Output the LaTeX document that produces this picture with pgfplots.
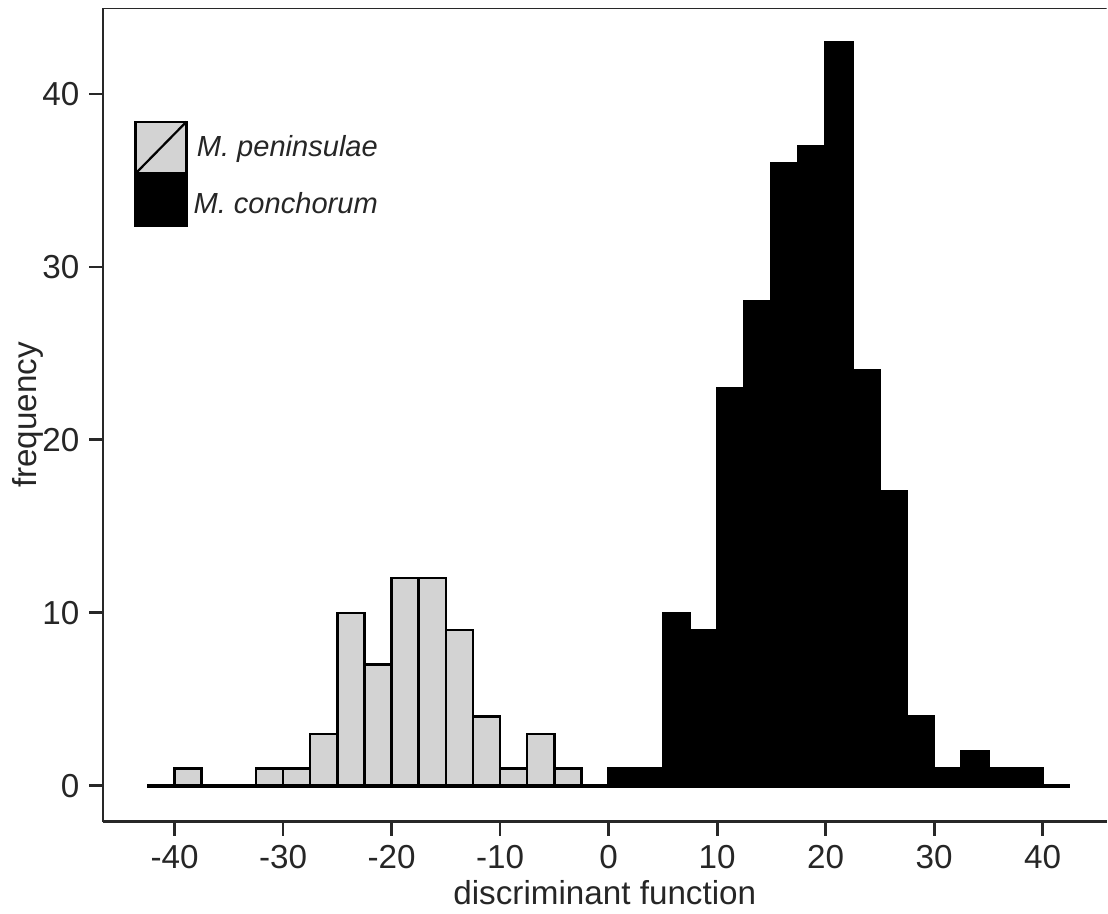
\documentclass[border=0pt]{standalone}
\usepackage{fontspec}
\setmainfont{Liberation Sans}
\usepackage{pgfplots}
\pgfplotsset{compat=1.18}
\usetikzlibrary{calc}
\definecolor{lgrey}{RGB}{211,211,211}
\definecolor{axgray}{RGB}{40,40,40}
\begin{document}
\begin{tikzpicture}
\begin{axis}[
  scale only axis, width=362.5pt, height=293.9pt,
  xmin=-46.6, xmax=45.9, ymin=-2.08, ymax=44.97,
  axis x line*=bottom, axis y line*=left,
  axis line style={line width=1pt, color=axgray, -},
  xtick={-40,-30,...,40}, ytick={0,10,20,30,40},
  minor tick num=0,
  tick align=outside, major tick length=5pt,
  tick style={line width=1pt, color=axgray},
  /pgf/number format/assume math mode=true,
  tick label style={font=\fontsize{12}{14}\selectfont, text=black!85},
  label style={font=\fontsize{12}{14}\selectfont, text=black!85},
  xlabel={discriminant function}, ylabel={frequency},
  xlabel style={at={(axis description cs:0.5,-0.087)}, anchor=center},
  ylabel style={at={(axis description cs:-0.0747,0.5)}, anchor=center, rotate=0},
]
\addplot[ybar interval, fill=lgrey, draw=black, line width=0.9pt] coordinates {
  (-42.5,0) (-40,1) (-37.5,0) (-35,0) (-32.5,1) (-30,1) (-27.5,3) (-25,10)
  (-22.5,7) (-20,12) (-17.5,12) (-15,9) (-12.5,4) (-10,1) (-7.5,3) (-5,1)
  (-2.5,0) (0,0)};
\addplot[ybar interval, fill=black, draw=black, line width=0.9pt] coordinates {
  (0,1) (2.5,1) (5,10) (7.5,9) (10,23) (12.5,28) (15,36) (17.5,37) (20,43)
  (22.5,24) (25,17) (27.5,4) (30,1) (32.5,2) (35,1) (37.5,1) (40,0)};
\addplot[line width=1.3pt, black] coordinates {(-42.5,0) (42.5,0)};
\draw[line width=1pt, axgray] (rel axis cs:0,1) -- (rel axis cs:1,1);
% legend
\draw[line width=0.8pt, fill=black] (axis cs:-43.6,32.4) rectangle (axis cs:-38.9,38.4);
\draw[line width=0.8pt, fill=lgrey] (axis cs:-43.6,35.4) rectangle (axis cs:-38.9,38.4);
\draw[line width=0.8pt] (axis cs:-43.6,35.4) -- (axis cs:-38.9,38.4);
\node[anchor=west, inner sep=0pt, font=\fontsize{10.5}{12}\selectfont\itshape, text=black!85] at (axis cs:-38.0,36.8) {M. peninsulae};
\node[anchor=west, inner sep=0pt, font=\fontsize{10.5}{12}\selectfont\itshape, text=black!85] at (axis cs:-38.3,33.7) {M. conchorum};
\coordinate (bl) at (rel axis cs:0,0);
\coordinate (tr) at (rel axis cs:1,1);
\end{axis}
\path ($(bl)+(-37.2pt,-32.1pt)$) rectangle ($(tr)+(0pt,2.9pt)$);
\end{tikzpicture}
\end{document}
